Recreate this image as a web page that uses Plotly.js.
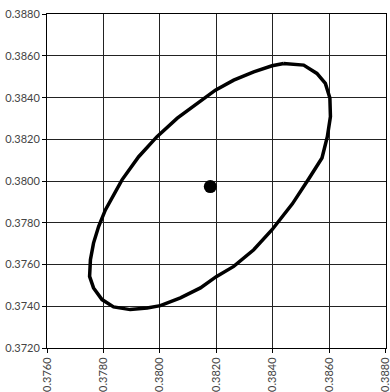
<!DOCTYPE html>
<html>
<head>
<meta charset="utf-8">
<script src="https://cdn.plot.ly/plotly-3.0.1.min.js"></script>
<style>html,body{margin:0;padding:0;background:#fff;}#chart{width:390px;height:392px;}</style>
</head>
<body>
<div id="chart"></div>
<script>
const ellipseX = [0.38439,0.38510,0.38557,0.38587,0.38603,0.38605,0.38594,0.38575,0.38530,0.38470,0.38398,0.38333,0.38262,0.38200,0.38144,0.38073,0.38002,0.37955,0.37895,0.37836,0.37795,0.37765,0.37751,0.37754,0.37765,0.37783,0.37807,0.37866,0.37925,0.37990,0.38062,0.38138,0.38197,0.38262,0.38333,0.38398,0.38439];
const ellipseY = [0.38564,0.38556,0.38516,0.38468,0.38398,0.38309,0.38213,0.38111,0.38015,0.37891,0.37767,0.37671,0.37591,0.37542,0.37488,0.37440,0.37403,0.37392,0.37384,0.37397,0.37432,0.37488,0.37543,0.37623,0.37703,0.37782,0.37862,0.38006,0.38117,0.38213,0.38302,0.38380,0.38436,0.38484,0.38524,0.38553,0.38564];
const centerX = [0.38179];
const centerY = [0.37974];
const xTicks = [0.3760,0.3780,0.3800,0.3820,0.3840,0.3860,0.3880];
const yTicks = [0.3720,0.3740,0.3760,0.3780,0.3800,0.3820,0.3840,0.3860,0.3880];

const traces = [
  {x: ellipseX, y: ellipseY, mode: 'lines', line: {color: '#000', width: 3.5}, hoverinfo: 'skip'},
  {x: centerX, y: centerY, mode: 'markers', marker: {color: '#000', size: 13}}
];
const axisCommon = {
  showline: true, linecolor: '#000', linewidth: 1, mirror: true,
  showgrid: true, gridcolor: '#222', gridwidth: 1,
  ticks: 'outside', ticklen: 4, tickcolor: '#000', tickwidth: 1,
  zeroline: false, tickformat: '.4f', ticklabeloverflow: 'allow',
  tickfont: {family: 'Lato, sans-serif', size: 11, color: '#444'}
};
const layout = {
  width: 390, height: 392,
  margin: {l: 47, r: 4, t: 14, b: 44},
  showlegend: false,
  paper_bgcolor: '#fff', plot_bgcolor: '#fff',
  xaxis: Object.assign({}, axisCommon, {range: [0.37600, 0.38802], tickvals: xTicks, tickangle: -90}),
  yaxis: Object.assign({}, axisCommon, {range: [0.37200, 0.38801], tickvals: yTicks})
};
Plotly.newPlot('chart', traces, layout, {displayModeBar: false, staticPlot: true});
</script>
</body>
</html>
